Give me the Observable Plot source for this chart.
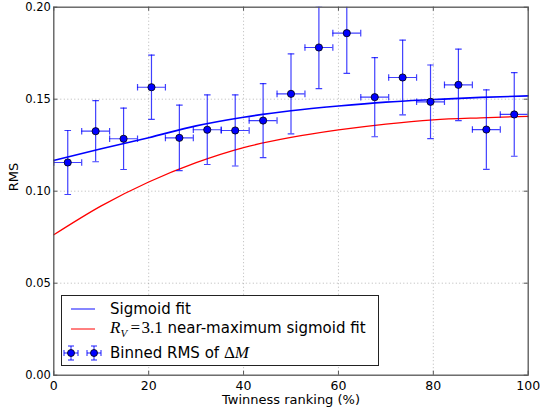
<!DOCTYPE html>
<html>
<head>
<meta charset="utf-8">
<script src="https://cdn.jsdelivr.net/npm/d3@7"></script>
<script src="https://cdn.jsdelivr.net/npm/@observablehq/plot@0.6"></script>
<style>
  html, body { margin: 0; padding: 0; background: #fff; }
  #wrap { position: relative; width: 541px; height: 411px; }
  #legend {
    position: absolute; left: 61px; top: 295px; width: 318px; height: 71px;
    background: #fff; border: 1px solid #222; box-sizing: border-box;
    font-family: "DejaVu Sans", sans-serif; font-size: 15px; color: #000;
  }
  .row { position: absolute; left: 0; height: 22px; display: flex; align-items: center; }
  .row svg { position: absolute; left: 0; top: 0; }
  .row span { position: absolute; left: 48px; white-space: nowrap; }
  .m { font-family: "Liberation Serif", serif; font-size: 17px; }
</style>
</head>
<body>
<div id="wrap">
  <div id="chart"></div>
  <div id="legend">
    <div class="row" style="top:2px"><svg width="45" height="22"><line x1="9" x2="33" y1="11" y2="11" stroke="blue" stroke-opacity="0.6" stroke-width="1.6"/></svg><span>Sigmoid fit</span></div>
    <div class="row" style="top:22px"><svg width="45" height="22"><line x1="9" x2="33" y1="11" y2="11" stroke="red" stroke-width="1"/></svg><span><span class="m" style="position:static"><i>R</i><sub style="font-size:11px"><i>V</i></sub>&#8201;=&#8202;3.1</span> near-maximum sigmoid fit</span></div>
    <div class="row" style="top:46px"><svg width="45" height="22">
      <g stroke="blue" stroke-opacity="0.75" stroke-width="1.2">
        <line x1="2" x2="16" y1="11" y2="11"/><line x1="9" x2="9" y1="4" y2="18"/>
        <line x1="2" x2="2" y1="8" y2="14"/><line x1="16" x2="16" y1="8" y2="14"/>
        <line x1="6" x2="12" y1="4" y2="4"/><line x1="6" x2="12" y1="18" y2="18"/>
        <line x1="25" x2="39" y1="11" y2="11"/><line x1="32" x2="32" y1="4" y2="18"/>
        <line x1="25" x2="25" y1="8" y2="14"/><line x1="39" x2="39" y1="8" y2="14"/>
        <line x1="29" x2="35" y1="4" y2="4"/><line x1="29" x2="35" y1="18" y2="18"/>
      </g>
      <circle cx="9" cy="11" r="3.5" fill="blue" stroke="#000" stroke-width="0.8"/>
      <circle cx="32" cy="11" r="3.5" fill="blue" stroke="#000" stroke-width="0.8"/>
    </svg><span>Binned RMS of <span class="m" style="position:static">&#916;<i>M</i></span></span></div>
  </div>
</div>
<script>
// Bin centres (twinness ranking, %) and binned RMS values with errors
const binCenters = [2.94, 8.82, 14.71, 20.59, 26.47, 32.35, 38.24, 44.12, 50.0, 55.88, 61.76, 67.65, 73.53, 79.41, 85.29, 91.18, 97.06];
const binHalfWidth = 2.94;
const rmsValues = [0.1156, 0.1326, 0.1285, 0.1565, 0.1290, 0.1334, 0.1330, 0.1384, 0.1529, 0.1781, 0.1859, 0.1511, 0.1618, 0.1486, 0.1578, 0.1335, 0.1417];
const rmsErrors = [0.0174, 0.0166, 0.0167, 0.0175, 0.0178, 0.0189, 0.0193, 0.0201, 0.0217, 0.0224, 0.0219, 0.0215, 0.0203, 0.0200, 0.0194, 0.0216, 0.0227];

// Fit curves
const curveX = [0, 10, 20, 30, 40, 50, 60, 70, 80, 90, 100];
const sigmoidFit = [0.1167, 0.1231, 0.1291, 0.1355, 0.1402, 0.1437, 0.1463, 0.1484, 0.1498, 0.1510, 0.1518];
const rv31Fit = [0.0763, 0.0920, 0.1050, 0.1155, 0.1237, 0.1292, 0.1333, 0.1365, 0.1388, 0.1399, 0.1407];

const xTicks = [0, 20, 40, 60, 80, 100];
const yTicks = [0, 0.05, 0.10, 0.15, 0.20];
const xGrid = [20, 40, 60, 80];
const yGrid = [0.05, 0.10, 0.15];

const points = binCenters.map((x, i) => ({x, y: rmsValues[i], e: rmsErrors[i]}));
const blue = curveX.map((x, i) => ({x, y: sigmoidFit[i]}));
const red = curveX.map((x, i) => ({x, y: rv31Fit[i]}));

const W = 541, H = 411, mL = 53.3, mR = 13.3, mT = 6.7, mB = 36.3;
const pw = W - mL - mR, ph = H - mT - mB;

const hCap = {draw(ctx, size) { const r = Math.sqrt(size / Math.PI); ctx.moveTo(-r, 0); ctx.lineTo(r, 0); }};
const vCap = {draw(ctx, size) { const r = Math.sqrt(size / Math.PI); ctx.moveTo(0, -r); ctx.lineTo(0, r); }};
const ebStyle = {stroke: "blue", strokeOpacity: 0.75, strokeWidth: 1.2};

const chart = Plot.plot({
  width: W, height: H,
  marginLeft: mL, marginRight: mR, marginTop: mT, marginBottom: mB,
  style: {fontFamily: "DejaVu Sans, sans-serif", fontSize: "11px", color: "#000", background: "#fff"},
  x: {domain: [0, 100], ticks: xTicks},
  y: {domain: [0, 0.2], ticks: yTicks},
  marks: [
    Plot.ruleX(xGrid, {stroke: "#888", strokeWidth: 0.6, strokeDasharray: "1,2.5"}),
    Plot.ruleY(yGrid, {stroke: "#888", strokeWidth: 0.6, strokeDasharray: "1,2.5"}),
    Plot.line(blue, {x: "x", y: "y", stroke: "blue", strokeWidth: 1.6, curve: "monotone-x"}),
    Plot.line(red, {x: "x", y: "y", stroke: "red", strokeWidth: 1.3, curve: "monotone-x"}),
    Plot.ruleX(points, {x: "x", y1: d => d.y - d.e, y2: d => d.y + d.e, ...ebStyle, clip: true}),
    Plot.ruleY(points, {y: "y", x1: d => d.x - binHalfWidth, x2: d => d.x + binHalfWidth, ...ebStyle, clip: true}),
    Plot.dot(points, {x: "x", y: d => d.y + d.e, symbol: hCap, r: 3.3, fill: "none", ...ebStyle, clip: true}),
    Plot.dot(points, {x: "x", y: d => d.y - d.e, symbol: hCap, r: 3.3, fill: "none", ...ebStyle, clip: true}),
    Plot.dot(points, {x: d => d.x - binHalfWidth, y: "y", symbol: vCap, r: 3.3, fill: "none", ...ebStyle, clip: true}),
    Plot.dot(points, {x: d => d.x + binHalfWidth, y: "y", symbol: vCap, r: 3.3, fill: "none", ...ebStyle, clip: true}),
    Plot.dot(points, {x: "x", y: "y", r: 3.6, fill: "blue", stroke: "#000", strokeWidth: 0.8}),
    // inward ticks on all four sides
    Plot.ruleX(xTicks, {stroke: "#555", insetTop: ph - 4}),
    Plot.ruleX(xTicks, {stroke: "#555", insetBottom: ph - 4}),
    Plot.ruleY(yTicks, {stroke: "#555", insetRight: pw - 4}),
    Plot.ruleY(yTicks, {stroke: "#555", insetLeft: pw - 4}),
    Plot.frame({stroke: "#555", strokeWidth: 1.3}),
    Plot.axisX(xTicks, {tickSize: 0, tickPadding: 6, label: null, fontSize: 12.5}),
    Plot.axisY(yTicks, {tickSize: 0, tickPadding: 3, label: null, tickFormat: d3.format(".2f"), fontSize: 11.5}),
    Plot.text(["Twinness ranking (%)"], {frameAnchor: "bottom", dy: 29, fontSize: 13}),
    Plot.text(["RMS"], {frameAnchor: "left", dx: -40, rotate: -90, fontSize: 13})
  ]
});
document.getElementById("chart").appendChild(chart);
</script>
</body>
</html>
